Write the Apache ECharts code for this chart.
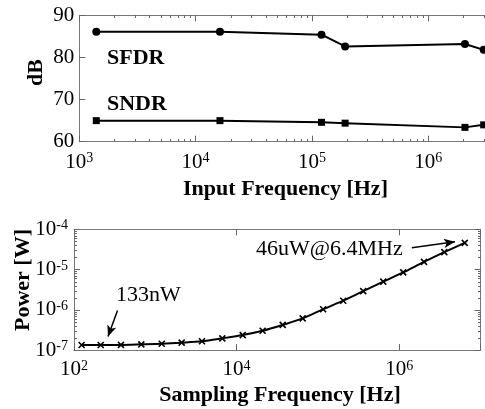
<!DOCTYPE html>
<html><head><meta charset="utf-8">
<script src="https://cdn.jsdelivr.net/npm/echarts@6/dist/echarts.min.js"></script>
<style>html,body{margin:0;padding:0;background:#fff}#c{width:485px;height:409px}</style>
</head><body><div id="c"></div>
<script>
// ---- data ----
const inputFreq = [1400, 16200, 121000, 193000, 2.07e6, 3.0e6];
const sfdr = [86.1, 86.1, 85.4, 82.6, 83.2, 81.8];
const sndr = [65.0, 65.0, 64.6, 64.4, 63.4, 64.0];
const samplingFreq = [124, 213, 378, 673, 1200, 2110, 3750, 6670, 11900, 20900, 36900, 65000, 116000, 205000, 361000, 637000, 1.12e6, 2.02e6, 3.59e6, 6.4e6];
const power = [1.33e-7, 1.33e-7, 1.34e-7, 1.38e-7, 1.43e-7, 1.52e-7, 1.65e-7, 1.95e-7, 2.35e-7, 3.0e-7, 4.2e-7, 6.1e-7, 1.03e-6, 1.68e-6, 2.9e-6, 5.0e-6, 8.5e-6, 1.55e-5, 2.7e-5, 4.6e-5];
const dbRange = [60, 90];
const inputFreqRange = [1e3, 1e7];
const samplingFreqRange = [1e2, 1e7];
const powerRange = [1e-7, 1e-4];
const labels = {sfdr: 'SFDR', sndr: 'SNDR', pMin: '133nW', pMax: '46uW@6.4MHz',
  xTop: 'Input Frequency [Hz]', yTop: 'dB', xBot: 'Sampling Frequency [Hz]', yBot: 'Power [W]'};
// annotation arrows (data coordinates)
const arrowMin = [[343, 9.6e-7], [262, 2.16e-7]];
const arrowMax = [[1.43e6, 3.47e-5], [4.85e6, 4.89e-5]];

const F = 'Liberation Serif, Times New Roman, serif';
const AX = '#777';
const MINOR = '#666';

function minorVals(lo, hi) {
  const out = [];
  for (let k = Math.round(Math.log10(lo)); k < Math.round(Math.log10(hi)); k++)
    for (let m = 2; m <= 9; m++) out.push(m * Math.pow(10, k));
  return out;
}
function supLabel(v) {
  const e = Math.round(Math.log10(v));
  return '{b|10}{s|' + e + '}';
}
const rich = {
  b: {fontSize: 21, fontFamily: F, color: '#000', lineHeight: 21, verticalAlign: 'bottom'},
  s: {fontSize: 14, fontFamily: F, color: '#000', lineHeight: 14, verticalAlign: 'top', padding: [0, 0, 16, 0]}
};

function xMinorSeries(xi, yi, vals, yv, len) {
  return {
    type: 'custom', xAxisIndex: xi, yAxisIndex: yi, silent: true, clip: false, z: 20,
    data: vals.map(v => [v, yv]),
    renderItem: function (params, api) {
      const cs = params.coordSys;
      const x = Math.round(api.coord([api.value(0), api.value(1)])[0]) + 0.5;
      const yb = Math.round(cs.y + cs.height), yt = Math.round(cs.y);
      const st = {stroke: MINOR, lineWidth: 1, fill: null};
      return {type: 'group', children: [
        {type: 'line', shape: {x1: x, y1: yb, x2: x, y2: yb - len}, style: st},
        {type: 'line', shape: {x1: x, y1: yt, x2: x, y2: yt + len}, style: st}
      ]};
    }
  };
}
function yMinorSeries(xi, yi, vals, xv, len) {
  return {
    type: 'custom', xAxisIndex: xi, yAxisIndex: yi, silent: true, clip: false, z: 20,
    data: vals.map(v => [xv, v]),
    renderItem: function (params, api) {
      const cs = params.coordSys;
      const y = Math.round(api.coord([api.value(0), api.value(1)])[1]) + 0.5;
      const xl = Math.round(cs.x), xr = Math.round(cs.x + cs.width);
      const st = {stroke: MINOR, lineWidth: 1, fill: null};
      return {type: 'group', children: [
        {type: 'line', shape: {x1: xl, y1: y, x2: xl + len, y2: y}, style: st},
        {type: 'line', shape: {x1: xr, y1: y, x2: xr - len, y2: y}, style: st}
      ]};
    }
  };
}

const axLine = {show: true, onZero: false, lineStyle: {color: AX, width: 1}};
const tickIn = {show: true, inside: true, length: 6, lineStyle: {color: MINOR, width: 1}};

const option = {
  animation: false,
  backgroundColor: '#fff',
  grid: [
    {left: 79.3, top: 15.3, width: 465.2, height: 126.4, outerBoundsMode: 'none', containLabel: false},
    {left: 74, top: 229.3, width: 406.5, height: 120.7, outerBoundsMode: 'none', containLabel: false}
  ],
  xAxis: [
    {gridIndex: 0, type: 'log', logBase: 10, min: inputFreqRange[0], max: inputFreqRange[1], position: 'bottom',
     axisLine: axLine, axisTick: tickIn, splitLine: {show: false},
     axisLabel: {formatter: supLabel, rich: rich, margin: 10, hideOverlap: false}},
    {gridIndex: 0, type: 'log', logBase: 10, min: inputFreqRange[0], max: inputFreqRange[1], position: 'top',
     axisLine: axLine, axisTick: tickIn, splitLine: {show: false}, axisLabel: {show: false}},
    {gridIndex: 1, type: 'log', logBase: 100, min: samplingFreqRange[0], max: samplingFreqRange[1], position: 'bottom',
     axisLine: axLine, axisTick: tickIn, splitLine: {show: false},
     axisLabel: {formatter: function (v) { const e = Math.round(Math.log10(v)); return (e % 2 === 0 && e < 7) ? supLabel(v) : ''; }, rich: rich, margin: 9}},
    {gridIndex: 1, type: 'log', logBase: 100, min: samplingFreqRange[0], max: samplingFreqRange[1], position: 'top',
     axisLine: axLine, axisTick: tickIn, splitLine: {show: false}, axisLabel: {show: false}}
  ],
  yAxis: [
    {gridIndex: 0, type: 'value', min: dbRange[0], max: dbRange[1], interval: 10, position: 'left',
     axisLine: axLine, axisTick: tickIn, splitLine: {show: false},
     axisLabel: {fontSize: 21, fontFamily: F, color: '#000', margin: 5}},
    {gridIndex: 1, type: 'log', logBase: 10, min: powerRange[0], max: powerRange[1], position: 'left',
     axisLine: axLine, axisTick: tickIn, splitLine: {show: false},
     axisLabel: {formatter: supLabel, rich: rich, margin: 6}},
    {gridIndex: 1, type: 'log', logBase: 10, min: powerRange[0], max: powerRange[1], position: 'right',
     axisLine: axLine, axisTick: tickIn, splitLine: {show: false}, axisLabel: {show: false}}
  ],
  series: [
    {type: 'line', name: labels.sfdr, xAxisIndex: 0, yAxisIndex: 0, data: inputFreq.map((f, i) => [f, sfdr[i]]),
     symbol: 'circle', symbolSize: 8, lineStyle: {color: '#000', width: 2}, itemStyle: {color: '#000'}, z: 10},
    {type: 'line', name: labels.sndr, xAxisIndex: 0, yAxisIndex: 0, data: inputFreq.map((f, i) => [f, sndr[i]]),
     symbol: 'rect', symbolSize: 7, lineStyle: {color: '#000', width: 2}, itemStyle: {color: '#000'}, z: 10},
    {type: 'line', name: 'Power', xAxisIndex: 2, yAxisIndex: 1, data: samplingFreq.map((f, i) => [f, power[i]]),
     symbol: 'path://M0,0L10,10M10,0L0,10', symbolSize: 6, smooth: 0.3,
     lineStyle: {color: '#000', width: 2}, itemStyle: {color: '#000', borderColor: '#000', borderWidth: 1.6}, z: 10,
     markLine: {silent: true, animation: false, symbol: ['none', 'arrow'], symbolSize: [7, 11],
       lineStyle: {color: '#000', width: 1.5, type: 'solid'}, label: {show: false},
       data: [
         [{coord: arrowMin[0]}, {coord: arrowMin[1]}],
         [{coord: arrowMax[0]}, {coord: arrowMax[1]}]
       ]}},
    xMinorSeries(0, 0, minorVals(inputFreqRange[0], inputFreqRange[1]), dbRange[0], 3),
    yMinorSeries(2, 1, minorVals(powerRange[0], powerRange[1]), samplingFreqRange[0], 3)
  ],
  graphic: [
    {type: 'text', left: 107, top: 47, style: {text: labels.sfdr, font: 'bold 22px ' + F, fill: '#000'}},
    {type: 'text', left: 107, top: 93, style: {text: labels.sndr, font: 'bold 22px ' + F, fill: '#000'}},
    {type: 'text', left: 116, top: 284, style: {text: labels.pMin, font: '22px ' + F, fill: '#000'}},
    {type: 'text', left: 256, top: 238, style: {text: labels.pMax, font: '22px ' + F, fill: '#000'}},
    {type: 'text', x: 285.5, y: 189, style: {text: labels.xTop, font: 'bold 22px ' + F, fill: '#000', textAlign: 'center', textVerticalAlign: 'middle'}},
    {type: 'text', x: 280, y: 395, style: {text: labels.xBot, font: 'bold 22px ' + F, fill: '#000', textAlign: 'center', textVerticalAlign: 'middle'}},
    {type: 'text', x: 36, y: 72.5, rotation: Math.PI / 2, style: {text: labels.yTop, font: 'bold 22px ' + F, fill: '#000', textAlign: 'center', textVerticalAlign: 'middle'}},
    {type: 'text', x: 23, y: 280, rotation: Math.PI / 2, style: {text: labels.yBot, font: 'bold 22px ' + F, fill: '#000', textAlign: 'center', textVerticalAlign: 'middle'}}
  ]
};
const chart = echarts.init(document.getElementById('c'), null, {renderer: 'canvas'});
chart.setOption(option);
</script>
</body></html>
